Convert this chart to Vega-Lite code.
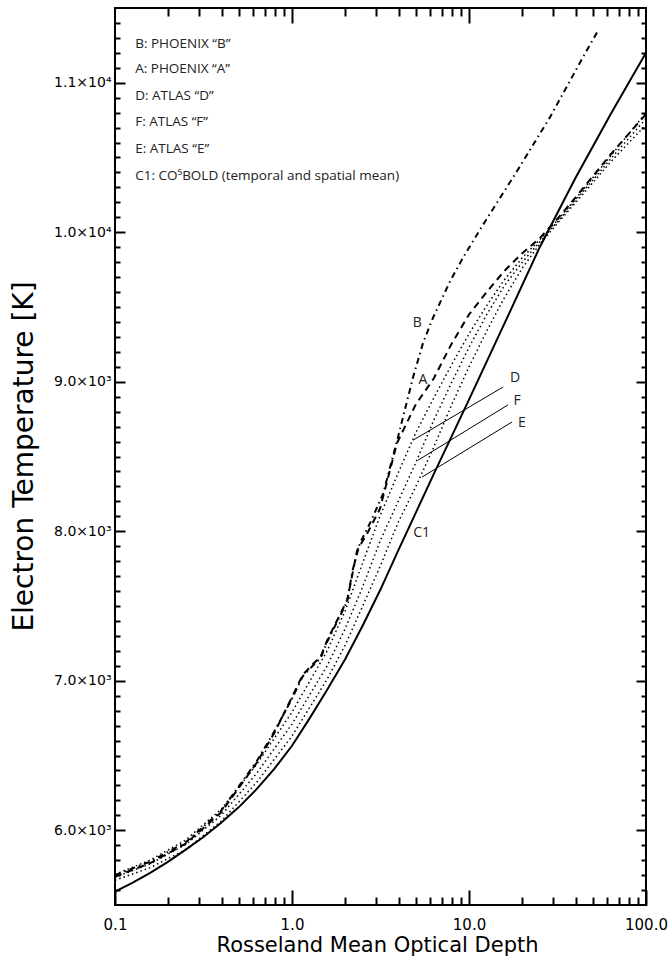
{
  "$schema": "https://vega.github.io/schema/vega-lite/v6.json",
  "width": 531,
  "height": 897,
  "autosize": "none",
  "padding": {"left": 115, "top": 8, "right": 24, "bottom": 53},
  "background": "white",
  "config": {
    "view": {"stroke": "black", "strokeWidth": 2},
    "axis": {"grid": false, "domain": false, "ticks": true, "tickOpacity": 1, "tickColor": "black", "labelColor": "black", "titleColor": "black", "tickWidth": 2, "zindex": 1}
  },
  "datasets": {
    "curves": [
      {"s": "C1", "tau": 0.1, "T": 5590}, {"s": "C1", "tau": 0.126, "T": 5650}, {"s": "C1", "tau": 0.158, "T": 5715}, {"s": "C1", "tau": 0.2, "T": 5790}, {"s": "C1", "tau": 0.251, "T": 5870}, {"s": "C1", "tau": 0.316, "T": 5955}, {"s": "C1", "tau": 0.398, "T": 6050}, {"s": "C1", "tau": 0.501, "T": 6155}, {"s": "C1", "tau": 0.631, "T": 6275}, {"s": "C1", "tau": 0.794, "T": 6410}, {"s": "C1", "tau": 1.0, "T": 6565}, {"s": "C1", "tau": 1.26, "T": 6750}, {"s": "C1", "tau": 1.58, "T": 6940}, {"s": "C1", "tau": 2.0, "T": 7145}, {"s": "C1", "tau": 2.51, "T": 7370}, {"s": "C1", "tau": 3.16, "T": 7610}, {"s": "C1", "tau": 3.98, "T": 7870}, {"s": "C1", "tau": 5.01, "T": 8125}, {"s": "C1", "tau": 6.31, "T": 8380}, {"s": "C1", "tau": 7.94, "T": 8630}, {"s": "C1", "tau": 10, "T": 8880}, {"s": "C1", "tau": 15.8, "T": 9385}, {"s": "C1", "tau": 25.1, "T": 9900}, {"s": "C1", "tau": 39.8, "T": 10360}, {"s": "C1", "tau": 63.1, "T": 10790}, {"s": "C1", "tau": 100, "T": 11200},

      {"s": "B", "tau": 0.1, "T": 5700}, {"s": "B", "tau": 0.158, "T": 5790}, {"s": "B", "tau": 0.251, "T": 5920}, {"s": "B", "tau": 0.398, "T": 6130}, {"s": "B", "tau": 0.631, "T": 6460}, {"s": "B", "tau": 0.794, "T": 6660}, {"s": "B", "tau": 1.0, "T": 6880}, {"s": "B", "tau": 1.15, "T": 7030}, {"s": "B", "tau": 1.31, "T": 7100}, {"s": "B", "tau": 1.45, "T": 7150}, {"s": "B", "tau": 1.58, "T": 7260}, {"s": "B", "tau": 2.05, "T": 7530}, {"s": "B", "tau": 2.2, "T": 7740}, {"s": "B", "tau": 2.42, "T": 7920}, {"s": "B", "tau": 2.8, "T": 8070}, {"s": "B", "tau": 3.27, "T": 8250}, {"s": "B", "tau": 3.97, "T": 8630}, {"s": "B", "tau": 4.83, "T": 9030}, {"s": "B", "tau": 5.5, "T": 9260}, {"s": "B", "tau": 6.27, "T": 9430}, {"s": "B", "tau": 7.8, "T": 9670}, {"s": "B", "tau": 9.25, "T": 9830}, {"s": "B", "tau": 12, "T": 10050}, {"s": "B", "tau": 18.7, "T": 10410}, {"s": "B", "tau": 28.7, "T": 10770}, {"s": "B", "tau": 44, "T": 11170}, {"s": "B", "tau": 54, "T": 11355},

      {"s": "A", "tau": 0.1, "T": 5690}, {"s": "A", "tau": 0.158, "T": 5780}, {"s": "A", "tau": 0.251, "T": 5910}, {"s": "A", "tau": 0.398, "T": 6120}, {"s": "A", "tau": 0.631, "T": 6450}, {"s": "A", "tau": 0.794, "T": 6650}, {"s": "A", "tau": 1.0, "T": 6890}, {"s": "A", "tau": 1.15, "T": 7040}, {"s": "A", "tau": 1.31, "T": 7110}, {"s": "A", "tau": 1.45, "T": 7160}, {"s": "A", "tau": 1.58, "T": 7270}, {"s": "A", "tau": 2.05, "T": 7540}, {"s": "A", "tau": 2.2, "T": 7720}, {"s": "A", "tau": 2.33, "T": 7870}, {"s": "A", "tau": 2.7, "T": 8000}, {"s": "A", "tau": 3.14, "T": 8150}, {"s": "A", "tau": 3.92, "T": 8590}, {"s": "A", "tau": 5.01, "T": 8850}, {"s": "A", "tau": 6.31, "T": 9020}, {"s": "A", "tau": 7.94, "T": 9250}, {"s": "A", "tau": 10, "T": 9450}, {"s": "A", "tau": 12.6, "T": 9600}, {"s": "A", "tau": 15.8, "T": 9740}, {"s": "A", "tau": 20, "T": 9860}, {"s": "A", "tau": 25.1, "T": 9960}, {"s": "A", "tau": 31.6, "T": 10090}, {"s": "A", "tau": 39.8, "T": 10230}, {"s": "A", "tau": 63.1, "T": 10520}, {"s": "A", "tau": 100, "T": 10790},

      {"s": "D", "tau": 0.1, "T": 5705}, {"s": "D", "tau": 0.158, "T": 5800}, {"s": "D", "tau": 0.251, "T": 5935}, {"s": "D", "tau": 0.398, "T": 6140}, {"s": "D", "tau": 0.631, "T": 6440}, {"s": "D", "tau": 1.0, "T": 6790}, {"s": "D", "tau": 1.58, "T": 7200}, {"s": "D", "tau": 2.0, "T": 7470}, {"s": "D", "tau": 2.51, "T": 7790}, {"s": "D", "tau": 3.16, "T": 8110}, {"s": "D", "tau": 3.98, "T": 8390}, {"s": "D", "tau": 5.01, "T": 8660}, {"s": "D", "tau": 6.31, "T": 8890}, {"s": "D", "tau": 7.94, "T": 9110}, {"s": "D", "tau": 10, "T": 9320}, {"s": "D", "tau": 12.6, "T": 9510}, {"s": "D", "tau": 15.8, "T": 9680}, {"s": "D", "tau": 20, "T": 9830}, {"s": "D", "tau": 25.1, "T": 9950}, {"s": "D", "tau": 31.6, "T": 10080}, {"s": "D", "tau": 39.8, "T": 10220}, {"s": "D", "tau": 63.1, "T": 10510}, {"s": "D", "tau": 100, "T": 10800},

      {"s": "F", "tau": 0.1, "T": 5685}, {"s": "F", "tau": 0.158, "T": 5775}, {"s": "F", "tau": 0.251, "T": 5905}, {"s": "F", "tau": 0.398, "T": 6100}, {"s": "F", "tau": 0.631, "T": 6380}, {"s": "F", "tau": 1.0, "T": 6710}, {"s": "F", "tau": 1.58, "T": 7100}, {"s": "F", "tau": 2.0, "T": 7350}, {"s": "F", "tau": 2.51, "T": 7630}, {"s": "F", "tau": 3.16, "T": 7940}, {"s": "F", "tau": 3.98, "T": 8200}, {"s": "F", "tau": 5.01, "T": 8460}, {"s": "F", "tau": 6.31, "T": 8740}, {"s": "F", "tau": 7.94, "T": 8990}, {"s": "F", "tau": 10, "T": 9230}, {"s": "F", "tau": 12.6, "T": 9450}, {"s": "F", "tau": 15.8, "T": 9640}, {"s": "F", "tau": 20, "T": 9800}, {"s": "F", "tau": 25.1, "T": 9935}, {"s": "F", "tau": 31.6, "T": 10070}, {"s": "F", "tau": 39.8, "T": 10210}, {"s": "F", "tau": 63.1, "T": 10490}, {"s": "F", "tau": 100, "T": 10760},

      {"s": "E", "tau": 0.1, "T": 5665}, {"s": "E", "tau": 0.158, "T": 5750}, {"s": "E", "tau": 0.251, "T": 5870}, {"s": "E", "tau": 0.398, "T": 6060}, {"s": "E", "tau": 0.631, "T": 6320}, {"s": "E", "tau": 1.0, "T": 6630}, {"s": "E", "tau": 1.58, "T": 7010}, {"s": "E", "tau": 2.0, "T": 7240}, {"s": "E", "tau": 2.51, "T": 7500}, {"s": "E", "tau": 3.16, "T": 7770}, {"s": "E", "tau": 3.98, "T": 8060}, {"s": "E", "tau": 5.01, "T": 8300}, {"s": "E", "tau": 6.31, "T": 8560}, {"s": "E", "tau": 7.94, "T": 8840}, {"s": "E", "tau": 10, "T": 9100}, {"s": "E", "tau": 12.6, "T": 9340}, {"s": "E", "tau": 15.8, "T": 9560}, {"s": "E", "tau": 20, "T": 9760}, {"s": "E", "tau": 25.1, "T": 9920}, {"s": "E", "tau": 31.6, "T": 10060}, {"s": "E", "tau": 39.8, "T": 10195}, {"s": "E", "tau": 63.1, "T": 10470}, {"s": "E", "tau": 100, "T": 10720}
    ],
    "leaders": [
      {"s": "D", "tau": 4.83, "T": 8609, "tau2": 15.6, "T2": 8965},
      {"s": "F", "tau": 5.15, "T": 8475, "tau2": 16.6, "T2": 8845},
      {"s": "E", "tau": 5.42, "T": 8362, "tau2": 17.5, "T2": 8731}
    ],
    "labels": [
      {"text": "B", "tau": 5.1, "T": 9393},
      {"text": "A", "tau": 5.5, "T": 9012},
      {"text": "C1", "tau": 5.4, "T": 7988},
      {"text": "D", "tau": 18.2, "T": 9025},
      {"text": "F", "tau": 18.7, "T": 8871},
      {"text": "E", "tau": 19.9, "T": 8724}
    ],
    "legend": [
      {"text": "B: PHOENIX “B”", "tau": 0.13, "T": 11260},
      {"text": "A: PHOENIX “A”", "tau": 0.13, "T": 11092},
      {"text": "D: ATLAS “D”", "tau": 0.13, "T": 10911},
      {"text": "F:  ATLAS “F”", "tau": 0.13, "T": 10737},
      {"text": "E:  ATLAS “E”", "tau": 0.13, "T": 10556},
      {"text": "C1: CO⁵BOLD (temporal and spatial mean)", "tau": 0.13, "T": 10375}
    ]
  },
  "layer": [
    {
      "data": {"name": "curves"},
      "transform": [{"filter": "datum.s == 'C1'"}],
      "mark": {"type": "line", "color": "black", "strokeWidth": 2, "clip": true},
      "encoding": {
        "x": {"field": "tau", "type": "quantitative",
          "scale": {"type": "log", "domain": [0.1, 100], "nice": false},
          "axis": {"orient": "bottom", "values": [0.1, 1, 10, 100], "offset": -15, "tickSize": 15,
            "labelExpr": "datum.value < 0.5 ? '0.1' : format(datum.value, '.1f')",
            "labelPadding": 12, "labelFont": "DejaVu Sans", "labelFontSize": 15,
            "labelFlush": false, "labelOverlap": false,
            "title": "Rosseland Mean Optical Depth", "titleFont": "DejaVu Sans", "titleFontSize": 21, "titleFontWeight": "normal",
            "titleX": 262, "titleY": 55, "titleBaseline": "middle", "titleAlign": "center"}},
        "y": {"field": "T", "type": "quantitative",
          "scale": {"domain": [5500, 11500], "nice": false, "zero": false},
          "axis": {"orient": "left", "values": [6000, 7000, 8000, 9000, 10000, 11000], "offset": -10, "tickSize": 10,
            "labelExpr": "format(datum.value / (datum.value >= 10000 ? 10000 : 1000), '.1f') + '×10' + (datum.value >= 10000 ? '⁴' : '³')",
            "labelPadding": 4, "labelFont": "DejaVu Sans", "labelFontSize": 14,
            "labelOverlap": false,
            "title": "Electron Temperature [K]", "titleFont": "DejaVu Sans", "titleFontSize": 28, "titleFontWeight": "normal",
            "titleX": -101, "titleY": 448, "titleAngle": -90, "titleBaseline": "middle", "titleAlign": "center"}}
      }
    },
    {
      "data": {"name": "curves"},
      "transform": [{"filter": "datum.s == 'B'"}],
      "mark": {"type": "line", "color": "black", "strokeWidth": 2, "strokeDash": [6, 4, 1.5, 4], "clip": true},
      "encoding": {
        "x": {"field": "tau", "type": "quantitative",
          "axis": {"orient": "bottom", "values": [0.2, 0.3, 0.4, 0.5, 0.6, 0.7, 0.8, 0.9, 2, 3, 4, 5, 6, 7, 8, 9, 20, 30, 40, 50, 60, 70, 80, 90],
            "labels": false, "offset": -8, "tickSize": 8, "title": null}},
        "y": {"field": "T", "type": "quantitative",
          "axis": {"orient": "left", "values": [5600, 5700, 5800, 5900, 6100, 6200, 6300, 6400, 6500, 6600, 6700, 6800, 6900, 7100, 7200, 7300, 7400, 7500, 7600, 7700, 7800, 7900, 8100, 8200, 8300, 8400, 8500, 8600, 8700, 8800, 8900, 9100, 9200, 9300, 9400, 9500, 9600, 9700, 9800, 9900, 10100, 10200, 10300, 10400, 10500, 10600, 10700, 10800, 10900, 11100, 11200, 11300, 11400],
            "labels": false, "offset": -5, "tickSize": 5, "title": null}}
      }
    },
    {
      "data": {"name": "curves"},
      "transform": [{"filter": "datum.s == 'A'"}],
      "mark": {"type": "line", "color": "black", "strokeWidth": 2, "strokeDash": [7, 5], "clip": true},
      "encoding": {
        "x": {"field": "tau", "type": "quantitative",
          "axis": {"orient": "top", "values": [1, 10], "labels": false, "offset": -15, "tickSize": 15, "title": null}},
        "y": {"field": "T", "type": "quantitative",
          "axis": {"orient": "right", "values": [6000, 7000, 8000, 9000, 10000, 11000], "labels": false, "offset": -10, "tickSize": 10, "title": null}}
      }
    },
    {
      "data": {"name": "curves"},
      "transform": [{"filter": "datum.s == 'D' || datum.s == 'F' || datum.s == 'E'"}],
      "mark": {"type": "line", "color": "black", "strokeWidth": 1.5, "strokeDash": [1.5, 3], "clip": true},
      "encoding": {
        "detail": {"field": "s"},
        "x": {"field": "tau", "type": "quantitative",
          "axis": {"orient": "top", "values": [0.2, 0.3, 0.4, 0.5, 0.6, 0.7, 0.8, 0.9, 2, 3, 4, 5, 6, 7, 8, 9, 20, 30, 40, 50, 60, 70, 80, 90],
            "labels": false, "offset": -8, "tickSize": 8, "title": null}},
        "y": {"field": "T", "type": "quantitative",
          "axis": {"orient": "right", "values": [5600, 5700, 5800, 5900, 6100, 6200, 6300, 6400, 6500, 6600, 6700, 6800, 6900, 7100, 7200, 7300, 7400, 7500, 7600, 7700, 7800, 7900, 8100, 8200, 8300, 8400, 8500, 8600, 8700, 8800, 8900, 9100, 9200, 9300, 9400, 9500, 9600, 9700, 9800, 9900, 10100, 10200, 10300, 10400, 10500, 10600, 10700, 10800, 10900, 11100, 11200, 11300, 11400],
            "labels": false, "offset": -5, "tickSize": 5, "title": null}}
      }
    },
    {
      "data": {"name": "leaders"},
      "mark": {"type": "rule", "color": "black", "strokeWidth": 1},
      "encoding": {
        "x": {"field": "tau", "type": "quantitative", "axis": null},
        "y": {"field": "T", "type": "quantitative", "axis": null},
        "x2": {"field": "tau2"},
        "y2": {"field": "T2"}
      }
    },
    {
      "data": {"name": "labels"},
      "mark": {"type": "text", "font": "Open Sans", "fontSize": 14, "color": "#222", "align": "center", "baseline": "middle"},
      "encoding": {
        "x": {"field": "tau", "type": "quantitative", "axis": null},
        "y": {"field": "T", "type": "quantitative", "axis": null},
        "text": {"field": "text"}
      }
    },
    {
      "data": {"name": "legend"},
      "mark": {"type": "text", "font": "Open Sans", "fontSize": 13.5, "color": "#222", "align": "left", "baseline": "middle"},
      "encoding": {
        "x": {"field": "tau", "type": "quantitative", "axis": null},
        "y": {"field": "T", "type": "quantitative", "axis": null},
        "text": {"field": "text"}
      }
    }
  ],
  "resolve": {"axis": {"x": "independent", "y": "independent"}}
}
